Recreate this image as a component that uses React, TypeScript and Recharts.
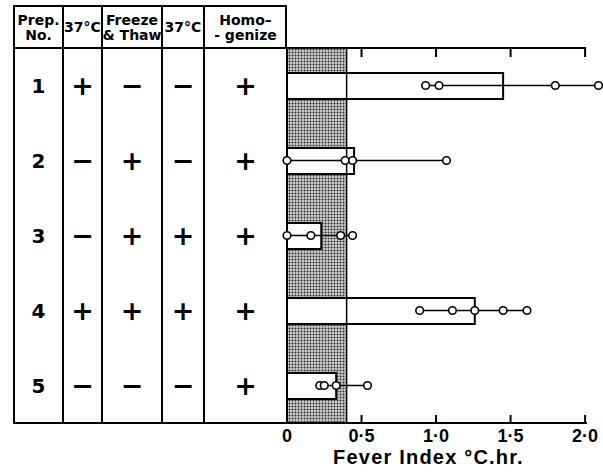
import { Bar, ComposedChart, ReferenceArea, ReferenceLine, Scatter, XAxis, YAxis } from 'recharts';

const prepNos = ['1', '2', '3', '4', '5'];
const heat37First = ['+', '−', '−', '+', '−'];
const freezeThaw = ['−', '+', '+', '+', '−'];
const heat37Second = ['−', '−', '+', '+', '−'];
const homogenize = ['+', '+', '+', '+', '+'];
const meanFeverIndex = [1.45, 0.45, 0.23, 1.26, 0.33];
const rabbitValues = [
  [0.93, 1.02, 1.8, 2.09],
  [0, 0.39, 0.44, 1.07],
  [0, 0.16, 0.36, 0.44],
  [0.89, 1.11, 1.26, 1.45, 1.61],
  [0.22, 0.25, 0.33, 0.54],
];
const tickValues = [0, 0.5, 1, 1.5, 2];
const tickLabels = ['0', '0·5', '1·0', '1·5', '2·0'];
const normalLimit = 0.4;
const axisMax = 2;
const headerLines = [['Prep.', 'No.'], ['37°C'], ['Freeze', '& Thaw'], ['37°C'], ['Homo–', '- genize']];

const barData = prepNos.map((prep, i) => ({ prep, mean: meanFeverIndex[i] }));
const tableColumns = [prepNos, heat37First, freezeThaw, heat37Second, homogenize];

// table geometry (px)
const colEdges = [14, 63, 102, 162, 204, 287];
const tableTop = 6;
const headerBottom = 48;
const tableBottom = 423;
const plotHeight = tableBottom - headerBottom;
const rowH = plotHeight / prepNos.length;

const font = '"DejaVu Sans", sans-serif';
const tickFont = '"Liberation Sans", Arial, sans-serif';

const BottomTick = (props: any) => {
  const { x, y, index } = props;
  return (
    <g>
      <line x1={x} x2={x} y1={y} y2={y - 8} stroke="#000" strokeWidth={2} />
      <text x={x} y={y + 19} textAnchor="middle" fontFamily={tickFont} fontWeight={700} fontSize={18} fill="#000">
        {tickLabels[index]}
      </text>
    </g>
  );
};

// frame spanning 0..axisMax: top edge with inward ticks, bottom edge, left edge
const Frame = (props: any) => {
  const { x, y, width, height } = props;
  const topTicks = tickValues
    .slice(1)
    .map((v) => {
      const tx = x + (width * v) / axisMax;
      return `M${tx},${y} V${y + 9}`;
    })
    .join(' ');
  return (
    <path
      d={`M${x},${y} H${x + width + 1} M${x},${y + height} H${x + width + 2} M${x},${y} V${y + height} ${topTicks}`}
      stroke="#000"
      strokeWidth={2}
      fill="none"
    />
  );
};

const Dot = (props: any) => (
  <circle cx={props.cx} cy={props.cy} r={3.8} fill="#fff" stroke="#000" strokeWidth={1.6} />
);

function Table() {
  return (
    <svg width={603} height={476} style={{ position: 'absolute', left: 0, top: 0, pointerEvents: 'none' }}>
      <g stroke="#000" strokeWidth={2}>
        <line x1={colEdges[0] - 1} x2={colEdges[5]} y1={tableTop} y2={tableTop} />
        <line x1={colEdges[0] - 1} x2={colEdges[5]} y1={headerBottom} y2={headerBottom} />
        <line x1={colEdges[0] - 1} x2={colEdges[5]} y1={tableBottom} y2={tableBottom} />
        {colEdges.slice(0, 5).map((cx) => (
          <line key={cx} x1={cx} x2={cx} y1={tableTop} y2={tableBottom} />
        ))}
        <line x1={colEdges[5] - 1} x2={colEdges[5] - 1} y1={tableTop} y2={headerBottom} />
      </g>
      {headerLines.map((lines, c) => {
        const cx = (colEdges[c] + colEdges[c + 1]) / 2;
        const startY = (tableTop + headerBottom) / 2 - ((lines.length - 1) * 15) / 2;
        return (
          <text key={c} textAnchor="middle" fontFamily={font} fontWeight={700} fontSize={14} fill="#000">
            {lines.map((ln, k) => (
              <tspan key={k} x={cx} y={startY + k * 15 + 5}>
                {ln}
              </tspan>
            ))}
          </text>
        );
      })}
      {tableColumns.map((col, c) =>
        col.map((v, r) => (
          <text
            key={`${c}-${r}`}
            x={(colEdges[c] + colEdges[c + 1]) / 2}
            y={headerBottom + rowH * (r + 0.5)}
            dominantBaseline="central"
            textAnchor="middle"
            fontFamily={font}
            fontWeight={700}
            fontSize={c === 0 ? 20 : 27}
            fill="#000"
          >
            {v}
          </text>
        )),
      )}
    </svg>
  );
}

export default function App() {
  return (
    <div style={{ position: 'absolute', left: 0, top: 0, width: 603, height: 476, background: '#fff' }}>
      <ComposedChart
        width={603}
        height={476}
        layout="vertical"
        data={barData}
        margin={{ top: headerBottom, right: 3, bottom: 0, left: 287 }}
      >
        <defs>
          <pattern id="stipple" width="3" height="3" patternUnits="userSpaceOnUse">
            <rect width="3" height="3" fill="#cfcfcf" />
            <circle cx="1.5" cy="1.5" r="1" fill="#2a2a2a" />
          </pattern>
        </defs>
        <XAxis
          type="number"
          domain={[0, 2.1]}
          ticks={tickValues}
          interval={0}
          axisLine={false}
          tickLine={false}
          tickSize={0}
          tickMargin={0}
          height={476 - tableBottom}
          tick={BottomTick}
          label={{
            value: 'Fever Index °C.hr.',
            position: 'insideBottom',
            offset: 12,
            dx: -15,
            fontFamily: tickFont,
            fontWeight: 700,
            fontSize: 20,
            letterSpacing: 1.2,
            fill: '#000',
          }}
        />
        <YAxis
          type="category"
          dataKey="prep"
          allowDuplicatedCategory={false}
          domain={prepNos}
          width={0}
          tick={false}
          tickLine={false}
          axisLine={false}
        />
        <ReferenceArea x1={0} x2={normalLimit} fill="url(#stipple)" fillOpacity={1} stroke="none" />
        <Bar dataKey="mean" fill="#fff" stroke="#000" strokeWidth={2} barSize={26} isAnimationActive={false} />
        <ReferenceLine x={normalLimit} stroke="#000" strokeWidth={1.5} />
        <ReferenceArea x1={0} x2={axisMax} fill="none" fillOpacity={0} shape={Frame} />
        {rabbitValues.map((vals, i) => (
          <Scatter
            key={i}
            data={vals.map((v) => ({ prep: prepNos[i], v }))}
            dataKey="v"
            line={{ stroke: '#000', strokeWidth: 1.5 }}
            shape={Dot}
            isAnimationActive={false}
          />
        ))}
      </ComposedChart>
      <Table />
    </div>
  );
}
